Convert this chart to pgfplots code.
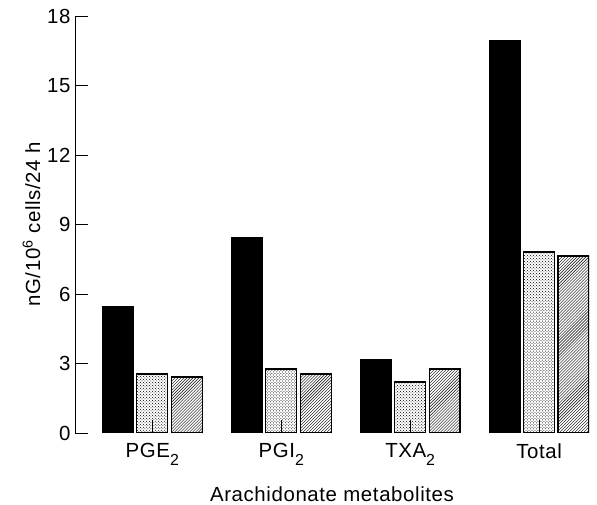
\documentclass[border=0pt]{standalone}
\usepackage{pgfplots}
\pgfplotsset{compat=1.18}
\usetikzlibrary{patterns}
\usepackage{fontspec}
\setmainfont{Liberation Sans}
\newcommand{\lbl}{\fontsize{20.5}{24}\selectfont\addfontfeatures{LetterSpace=3}}
\newcommand{\sub}[1]{\raisebox{-0.7ex}{\fontsize{16}{18}\selectfont #1}}
\begin{document}
\begin{tikzpicture}
\useasboundingbox (-75bp,-72bp) rectangle (522bp,433bp);
\begin{axis}[
  ybar, bar width=0.24,
  at={(0,0)}, anchor=south west,
  scale only axis, width=514bp, height=417bp,
  xmin=-0.6, xmax=3.387, ymin=0, ymax=18,
  axis line style={draw=none},
  xtick pos=left, ytick pos=left,
  ytick={0,3,...,18},
  xtick={0,1,2,3},
  xticklabels={PGE\sub{2},PGI\sub{2},TXA\sub{2},Total},
  xtick align=inside, ytick align=inside,
  major tick length=13bp,
  tick style={line width=0.9pt, black},
  tick label style={font=\lbl},
  /pgf/number format/assume math mode=true,
  yticklabel style={xshift=-1bp},
  xticklabel style={yshift=-7bp},
  xlabel={Arachidonate metabolites},
  ylabel={nG/10\textsuperscript{6} cells/24 h},
  label style={font=\lbl},
  xlabel style={yshift=-15bp},
  axis on top,
]
\addplot[fill=black, draw=black, line width=1.2pt, bar shift=-0.267]
  coordinates {(0,5.44) (1,8.42) (2,3.15) (3,16.92)};
\addplot[pattern=crosshatch dots, draw=black, line width=1.2pt, bar shift=0]
  coordinates {(0,2.55) (1,2.76) (2,2.2) (3,7.81)};
\addplot[pattern=north east lines, draw=black, line width=1.2pt, bar shift=0.267]
  coordinates {(0,2.42) (1,2.55) (2,2.76) (3,7.64)};
\draw[line width=0.9pt, line cap=rect] (rel axis cs:0,1) -- (rel axis cs:0,0) -- (rel axis cs:1,0);
\end{axis}
\end{tikzpicture}
\end{document}
